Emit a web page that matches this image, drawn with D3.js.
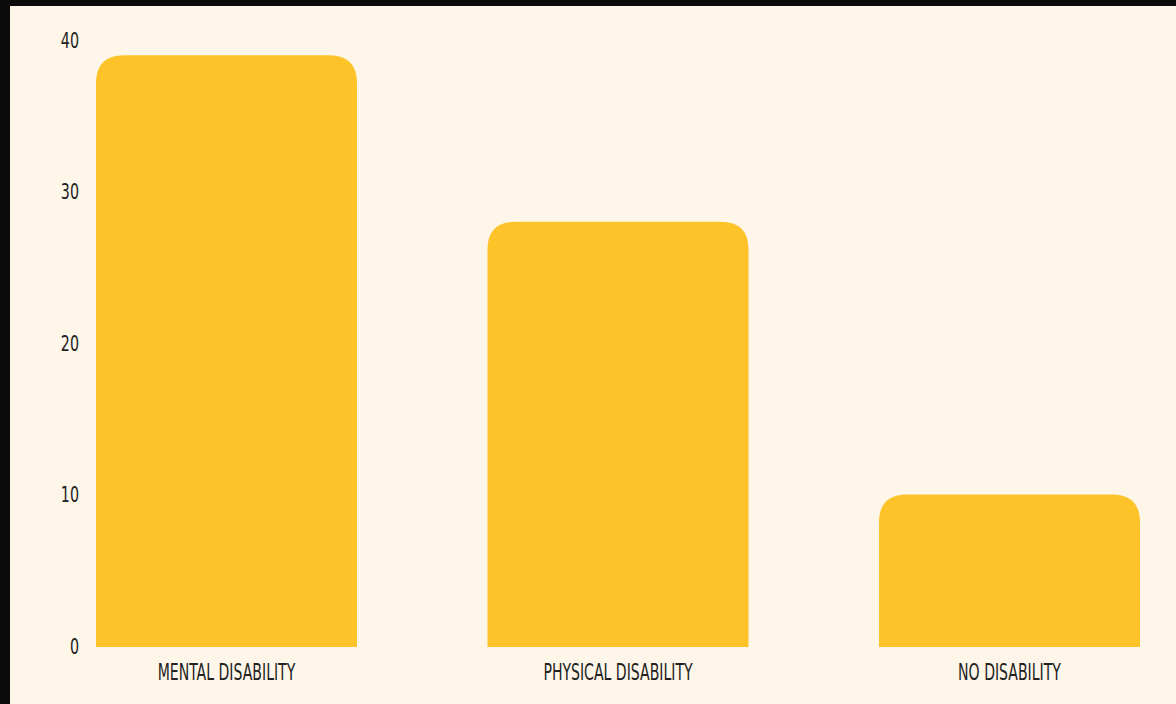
<!DOCTYPE html>
<html>
<head>
<meta charset="utf-8">
<script src="https://cdn.jsdelivr.net/npm/d3@7"></script>
<style>
  html, body { margin: 0; padding: 0; background: #000; }
  svg { display: block; }
</style>
</head>
<body>
<svg id="chart"></svg>
<script>
const WIDTH = 1176;
const HEIGHT = 704;

const categories = ["MENTAL DISABILITY", "PHYSICAL DISABILITY", "NO DISABILITY"];
const values = [39, 28, 10];
const yTicks = [0, 10, 20, 30, 40];

const svg = d3.select("#chart").attr("width", WIDTH).attr("height", HEIGHT);

// black frame on top and left, cream page
svg.append("rect").attr("x", 0).attr("y", 0)
  .attr("width", WIDTH).attr("height", HEIGHT).attr("fill", "#0b0b0b");
svg.append("rect").attr("x", 10).attr("y", 6)
  .attr("width", WIDTH - 10).attr("height", HEIGHT - 6).attr("fill", "#fef6e8");

const x = d3.scaleBand()
  .domain(categories)
  .range([96, 1140])
  .paddingInner(1 / 3)
  .paddingOuter(0);

const y = d3.scaleLinear()
  .domain([0, 40])
  .range([646, 40]);

const font = "'DejaVu Sans Condensed', 'DejaVu Sans', sans-serif";

// rounded top corners only
const barPath = (d, i) => {
  const x0 = x(categories[i]), w = x.bandwidth();
  const y0 = y(d), y1 = y(0) + 1;
  const r = 28;
  return `M${x0},${y1} L${x0},${y0 + r} Q${x0},${y0} ${x0 + r},${y0}` +
    ` L${x0 + w - r},${y0} Q${x0 + w},${y0} ${x0 + w},${y0 + r}` +
    ` L${x0 + w},${y1} Z`;
};

svg.append("g").selectAll("path").data(values).enter()
  .append("path")
  .attr("d", barPath)
  .attr("fill", "#fdc328");

const yAxis = svg.append("g")
  .attr("transform", "translate(79,0)")
  .call(d3.axisLeft(y).tickValues(yTicks).tickSize(0).tickPadding(0));
yAxis.select(".domain").remove();
yAxis.selectAll("text")
  .attr("font-family", font).attr("font-size", 22)
  .attr("fill", "#222").attr("dy", "0.33em")
  .attr("transform", "scale(0.72,1)");

const xAxis = svg.append("g")
  .attr("transform", "translate(0,680)")
  .call(d3.axisBottom(x).tickSize(0).tickPadding(0));
xAxis.select(".domain").remove();
xAxis.selectAll("text")
  .attr("font-family", font).attr("font-size", 23)
  .attr("fill", "#222").attr("dy", 0)
  .attr("transform", "scale(0.68,1)");
</script>
</body>
</html>
